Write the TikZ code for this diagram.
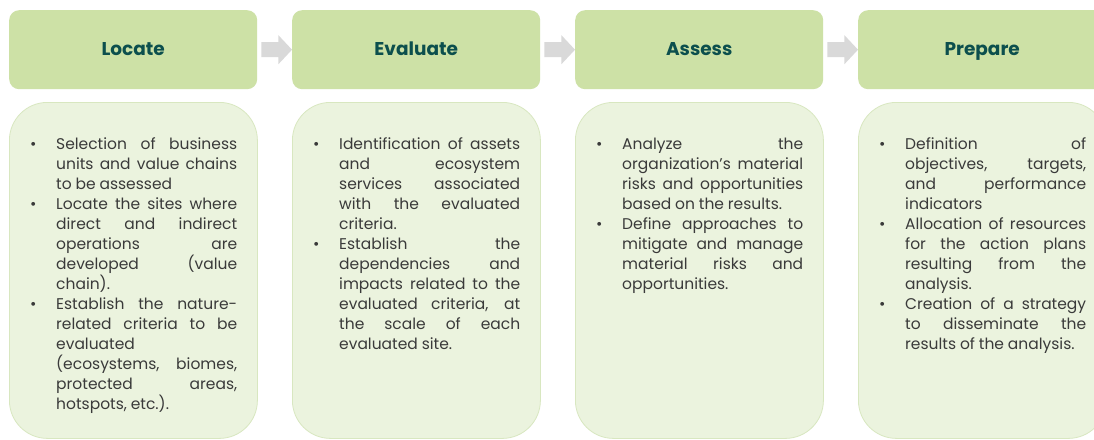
\documentclass[tikz,border=0pt]{standalone}
\usepackage{fontspec}
\setmainfont{Poppins}
\usetikzlibrary{calc}

\definecolor{headfill}{HTML}{CDE1A6}
\definecolor{bodyfill}{HTML}{EBF3DE}
\definecolor{bodyline}{HTML}{D8E7C0}
\definecolor{titlecol}{HTML}{0C4F4D}
\definecolor{textcol}{HTML}{3A3A3A}
\definecolor{arrowcol}{HTML}{D9D9D9}

% one bulleted paragraph with a hanging indent
\newcommand{\bitem}[1]{\par\noindent\hangindent=26pt\hangafter=1%
  \makebox[26pt][l]{\rule{0pt}{15pt}\textbullet}#1\par}
\newcommand{\nl}{\linebreak}
\newcommand{\bodysetup}{%
  \fontsize{15.5}{20}\selectfont
  \spaceskip=0.25em plus 1fil minus 0.12em
  \parfillskip=0pt plus 1fill
  \leftskip=0pt \rightskip=0pt
  \tolerance=10000 \hyphenpenalty=10000}

\tikzset{
  headbox/.style={fill=headfill, rounded corners=10pt, minimum width=248pt,
    minimum height=79pt, anchor=north west, inner sep=0pt,
    text height=12pt, text depth=0pt,
    font=\fontsize{18.5}{20}\selectfont\bfseries, text=titlecol},
  bodybox/.style={fill=bodyfill, draw=bodyline, line width=0.8pt,
    rounded corners=38pt, minimum width=248pt, minimum height=336pt,
    anchor=north west, inner sep=0pt},
  bodytext/.style={anchor=north west, inner sep=0pt, text width=207pt,
    text=textcol},
  flowarrow/.style={fill=arrowcol}
}

\newcommand{\stepflow}[2]{%
  \fill[flowarrow] ($(#1.east)+(4,-7.5)$) -- ($(#1.east)+(21,-7.5)$)
    -- ($(#1.east)+(21,-14.5)$) -- (#2.west) -- ($(#1.east)+(21,14.5)$)
    -- ($(#1.east)+(21,7.5)$) -- ($(#1.east)+(4,7.5)$) -- cycle;}

\begin{document}
\begin{tikzpicture}[x=1pt,y=-1pt]
\fill[white] (0,0) rectangle (1094,439);
\clip (0,0) rectangle (1094,439);

% step headers
\node[headbox] (h1) at (9,10)   {Locate};
\node[headbox] (h2) at (292,10) {Evaluate};
\node[headbox] (h3) at (575,10) {Assess};
\node[headbox] (h4) at (858,10) {Prepare};

\stepflow{h1}{h2}
\stepflow{h2}{h3}
\stepflow{h3}{h4}

% step contents
\node[bodybox] (b1) at (9,102)   {};
\node[bodybox] (b2) at (292,102) {};
\node[bodybox] (b3) at (575,102) {};
\node[bodybox] (b4) at (858,102) {};

\node[bodytext] (t1) at ($(b1.north west)+(21,27)$) {\bodysetup
\bitem{Selection of business\nl units and value chains\nl to be assessed}
\bitem{Locate the sites where\nl direct and indirect\nl operations are\nl developed (value\nl chain).}
\bitem{Establish the nature-\nl related criteria to be\nl evaluated\nl (ecosystems, biomes,\nl protected areas,\nl hotspots, etc.).}};

\node[bodytext] (t2) at ($(b2.north west)+(21,27)$) {\bodysetup
\bitem{Identification of assets\nl and ecosystem\nl services associated\nl with the evaluated\nl criteria.}
\bitem{Establish the\nl dependencies and\nl impacts related to the\nl evaluated criteria, at\nl the scale of each\nl evaluated site.}};

\node[bodytext] (t3) at ($(b3.north west)+(21,27)$) {\bodysetup
\bitem{Analyze the\nl organization's material\nl risks and opportunities\nl based on the results.}
\bitem{Define approaches to\nl mitigate and manage\nl material risks and\nl opportunities.}};

\node[bodytext] (t4) at ($(b4.north west)+(21,27)$) {\bodysetup
\bitem{Definition of\nl objectives, targets,\nl and performance\nl indicators}
\bitem{Allocation of resources\nl for the action plans\nl resulting from the\nl analysis.}
\bitem{Creation of a strategy\nl to disseminate the\nl results of the analysis.}};
\end{tikzpicture}
\end{document}
